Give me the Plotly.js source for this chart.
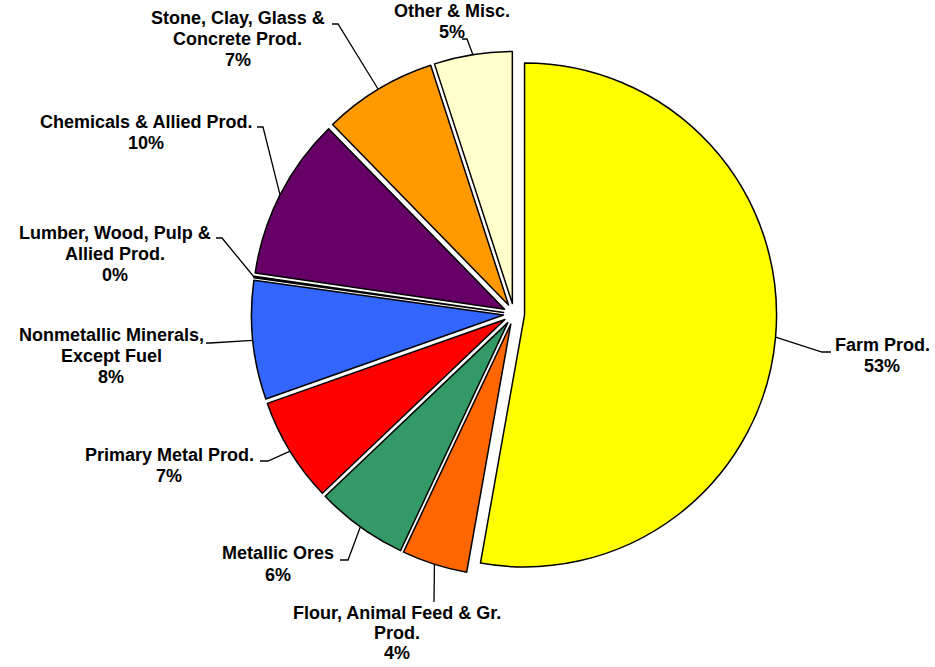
<!DOCTYPE html>
<html>
<head>
<meta charset="utf-8">
<script src="https://cdn.plot.ly/plotly-3.0.1.min.js"></script>
<style>
  html, body { margin: 0; padding: 0; background: #ffffff; }
  #chart { width: 935px; height: 667px; }
</style>
</head>
<body>
<div id="chart"></div>
<script>
// ---------- data ----------
const categories = [
  'Farm Prod.',
  'Flour, Animal Feed & Gr. Prod.',
  'Metallic Ores',
  'Primary Metal Prod.',
  'Nonmetallic Minerals, Except Fuel',
  'Lumber, Wood, Pulp & Allied Prod.',
  'Chemicals & Allied Prod.',
  'Stone, Clay, Glass & Concrete Prod.',
  'Other & Misc.'
];
const shares = [52.8, 4.2, 5.9, 6.7, 7.6, 0.1, 10.4, 7.3, 5.0];
const labelLines = [
  ['Farm Prod.'],
  ['Flour, Animal Feed & Gr.', 'Prod.'],
  ['Metallic Ores'],
  ['Primary Metal Prod.'],
  ['Nonmetallic Minerals,', 'Except Fuel'],
  ['Lumber, Wood, Pulp &', 'Allied Prod.'],
  ['Chemicals & Allied Prod.'],
  ['Stone, Clay, Glass &', 'Concrete Prod.'],
  ['Other & Misc.']
];
const sliceColors = ['#FFFF00', '#FF6600', '#339966', '#FF0000', '#3366FF',
                     '#FFFFFF', '#660066', '#FF9900', '#FFFFCC'];

// ---------- layout / styling (pixels) ----------
const W = 935, H = 667;
const PIE_CX = 514, PIE_CY = 314, PIE_R = 252, PULL = 0.042;
// label placement: text centre x, first line centre y, line gap, leader elbow, tail end x
const labelPlacement = [
  {x: 882, y: 345, g: 21, ex: 822, ey: 352, tx: 831},
  {x: 397, y: 613, g: 20, ex: 434, ey: 602, tx: 434},
  {x: 278, y: 553, g: 22, ex: 348, ey: 560, tx: 340},
  {x: 169, y: 455, g: 21, ex: 268, ey: 461, tx: 260},
  {x: 111, y: 335, g: 21, ex: 210, ey: 343, tx: 206},
  {x: 115, y: 233, g: 21, ex: 222, ey: 238, tx: 216},
  {x: 146, y: 122, g: 21, ex: 263, ey: 127, tx: 257},
  {x: 238, y: 18,  g: 21, ex: 338, ey: 24,  tx: 332},
  {x: 452, y: 11,  g: 21, ex: 467, ey: 39,  tx: 462}
];

const px = x => x / W;
const py = y => 1 - y / H;

const boxHalf = PIE_R * (1 + PULL);
const domainX = [px(PIE_CX - boxHalf), px(PIE_CX + boxHalf)];
const domainY = [py(PIE_CY + boxHalf), py(PIE_CY - boxHalf)];

const total = shares.reduce((a, b) => a + b, 0);
const pctText = shares.map(v => Math.round(v / total * 100) + '%');

const trace = {
  type: 'pie',
  labels: categories,
  values: shares,
  sort: false,
  direction: 'clockwise',
  rotation: 0,
  pull: shares.map(() => PULL),
  marker: { colors: sliceColors, line: { color: '#000000', width: 1.5 } },
  textinfo: 'none',
  hoverinfo: 'none',
  showlegend: false,
  domain: { x: domainX, y: domainY }
};

const annotations = [];
const shapes = [];
let cum = 0;
const armR = PIE_R * (1 + PULL);
shares.forEach((v, i) => {
  const mid = (cum + v / 2) / total * 2 * Math.PI;
  cum += v;
  const ax = PIE_CX + armR * Math.sin(mid);
  const ay = PIE_CY - armR * Math.cos(mid);
  const lp = labelPlacement[i];
  const lines = labelLines[i].concat([pctText[i]]);
  lines.forEach((t, k) => {
    annotations.push({
      xref: 'paper', yref: 'paper',
      x: px(lp.x), y: py(lp.y + k * lp.g),
      xanchor: 'center', yanchor: 'middle',
      text: t.replace(/&/g, '&amp;'),
      showarrow: false,
      font: { family: '"Liberation Sans", Arial, sans-serif', size: 18, color: '#000000', weight: 'bold' }
    });
  });
  const path = 'M' + px(ax) + ',' + py(ay) +
               ' L' + px(lp.ex) + ',' + py(lp.ey) +
               ' L' + px(lp.tx) + ',' + py(lp.ey);
  shapes.push({
    type: 'path', xref: 'paper', yref: 'paper', path: path,
    line: { color: '#000000', width: 1.3 }
  });
});

const layout = {
  width: W, height: H,
  margin: { l: 0, r: 0, t: 0, b: 0 },
  paper_bgcolor: '#ffffff',
  plot_bgcolor: '#ffffff',
  showlegend: false,
  annotations: annotations,
  shapes: shapes
};

Plotly.newPlot('chart', [trace], layout, { displayModeBar: false, staticPlot: true });
</script>
</body>
</html>
